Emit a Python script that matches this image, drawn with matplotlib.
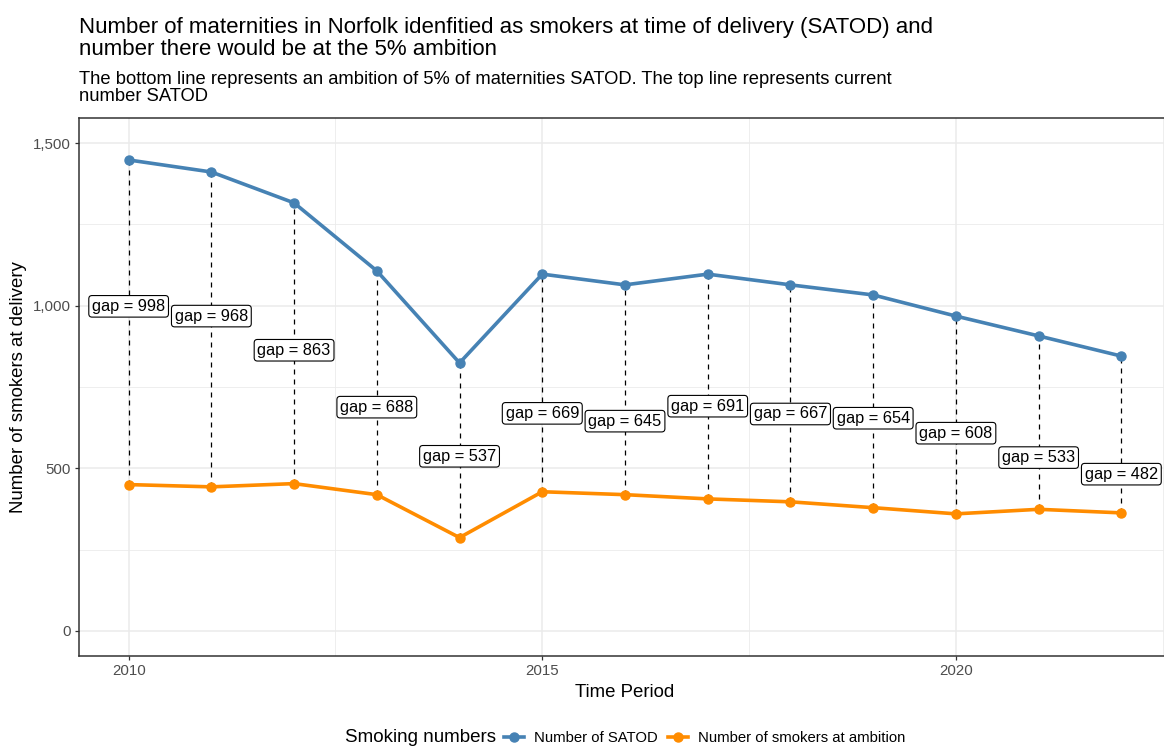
import matplotlib
matplotlib.use("Agg")
import matplotlib.pyplot as plt
from matplotlib.lines import Line2D
from matplotlib.ticker import FuncFormatter, MultipleLocator

plt.rcParams['font.family'] = ['Liberation Sans', 'DejaVu Sans']

years = [2010, 2011, 2012, 2013, 2014, 2015, 2016, 2017, 2018, 2019, 2020, 2021, 2022]
satod = [1448, 1411, 1316, 1107, 824, 1097, 1064, 1097, 1064, 1033, 968, 907, 845]
ambition = [450, 443, 453, 419, 287, 428, 419, 406, 397, 379, 360, 374, 363]
gaps = [998, 968, 863, 688, 537, 669, 645, 691, 667, 654, 608, 533, 482]
x_ticks = [2010, 2015, 2020]
y_ticks = [0, 500, 1000, 1500]
series_names = ['Number of SATOD', 'Number of smokers at ambition']

W, H = 1164, 747
fig = plt.figure(figsize=(W / 100, H / 100), dpi=100)
left, right, top, bottom = 79, 1171, 118, 656
ax = fig.add_axes([left / W, 1 - bottom / H, (right - left) / W, (bottom - top) / H])

grid_c = '#EBEBEB'
ax.set_xlim(2009.4, 2022.6)
ax.set_ylim(-77, 1577)
ax.set_xticks(x_ticks)
ax.set_yticks(y_ticks)
ax.xaxis.set_minor_locator(MultipleLocator(2.5))
ax.yaxis.set_minor_locator(MultipleLocator(250))
ax.grid(True, which='major', color=grid_c, linewidth=1.1, zorder=0)
ax.grid(True, which='minor', color=grid_c, linewidth=0.6, zorder=0)
ax.set_axisbelow(True)
ax.yaxis.set_major_formatter(FuncFormatter(lambda v, p: f"{int(v):,}"))
ax.tick_params(which='minor', length=0)
ax.tick_params(which='major', length=3, width=0.9, color='#333333', labelcolor='#4D4D4D',
               labelsize=10.8, pad=3)
for s in ax.spines.values():
    s.set_color('#333333')
    s.set_linewidth(1.1)

blue = '#4682B4'
orange = '#FF8C00'

for yr, lo, hi in zip(years, ambition, satod):
    ax.plot([yr, yr], [lo, hi], linestyle=(0, (4, 4)), color='black', linewidth=0.9, zorder=2)

ax.plot(years, satod, color=blue, linewidth=2.6, marker='o', markersize=6.5, zorder=3)
ax.plot(years, ambition, color=orange, linewidth=2.6, marker='o', markersize=6.5, zorder=3)

for yr, g in zip(years, gaps):
    ax.text(yr, g, f"gap = {g}", ha='center', va='center', fontsize=11.8, color='black', zorder=5,
            bbox=dict(boxstyle='round,pad=0.2,rounding_size=0.2', facecolor='white',
                      edgecolor='black', linewidth=0.8))

ax.set_xlabel('Time Period', fontsize=13.4, labelpad=4)
ax.set_ylabel('Number of smokers at delivery', fontsize=13.4, labelpad=4)

fig.text(79 / W, 1 - 17 / H, 'Number of maternities in Norfolk idenfitied as smokers at time of delivery (SATOD) and\nnumber there would be at the 5% ambition',
         fontsize=16.0, ha='left', va='top', linespacing=1.08)
fig.text(79 / W, 1 - 71 / H, 'The bottom line represents an ambition of 5% of maternities SATOD. The top line represents current\nnumber SATOD',
         fontsize=13.2, ha='left', va='top', linespacing=1.0)

fig.text(345 / W, 1 - 738 / H, 'Smoking numbers', fontsize=13.5, ha='left', va='center')
handles = [Line2D([], [], color=blue, linewidth=2.6, marker='o', markersize=6.5),
           Line2D([], [], color=orange, linewidth=2.6, marker='o', markersize=6.5)]
fig.legend(handles, series_names, loc='center left', bbox_to_anchor=(504 / W, 1 - 738 / H),
           ncol=2, frameon=False, fontsize=10.7, handlelength=1.35, handletextpad=0.65,
           columnspacing=0.7, borderpad=0, borderaxespad=0)

fig.savefig('out.png', dpi=100)
